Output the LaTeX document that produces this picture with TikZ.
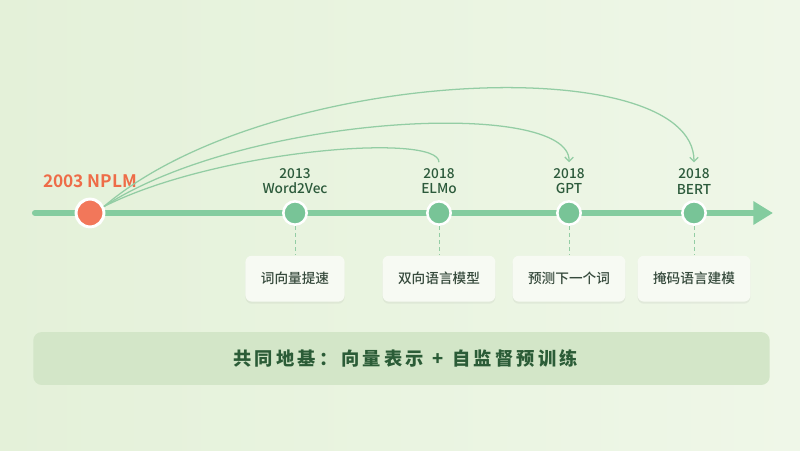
\documentclass[tikz,border=0pt]{standalone}
\usepackage{fontspec}
\usetikzlibrary{positioning,arrows.meta,shadows}
\newfontfamily\cjk{Noto Sans CJK SC}
\newfontfamily\cjkmed{Noto Sans CJK SC}[UprightFont={* Medium},BoldFont={* Bold}]
\newfontfamily\cjkband{Noto Sans CJK SC}[LetterSpace=18]

\definecolor{bgl}{HTML}{E4F1D9}
\definecolor{bgr}{HTML}{EFF7E8}
\definecolor{lineg}{HTML}{84CC9F}
\definecolor{dotg}{HTML}{78C497}
\definecolor{nplmc}{HTML}{F2775A}
\definecolor{nplmt}{HTML}{EE6C48}
\definecolor{darkg}{HTML}{2C5A3B}
\definecolor{curveg}{HTML}{93CDA4}
\definecolor{boxt}{HTML}{364A3C}
\definecolor{boxf}{HTML}{F7FAF3}
\definecolor{bandc}{HTML}{D3E6C8}
\definecolor{bandt}{HTML}{2B5C37}

\begin{document}
\begin{tikzpicture}[x=0.025cm,y=-0.025cm,
    yeardot/.style={circle,fill=dotg,draw=white,line width=1.8pt,minimum size=16.6pt,inner sep=0pt,
      drop shadow={opacity=0.12,shadow xshift=0pt,shadow yshift=-1pt}},
    nplmdot/.style={yeardot,fill=nplmc,line width=2.1pt,minimum size=19.8pt},
    yearlab/.style={align=center,text=darkg,inner sep=1pt,font=\cjkmed\fontsize{9.7}{11.3}\selectfont},
    nplmlab/.style={text=nplmt,inner sep=1pt,font=\cjkmed\bfseries\fontsize{12.3}{14}\selectfont},
    ideabox/.style={rounded corners=4.5pt,fill=boxf,text=boxt,inner xsep=11pt,minimum height=32.6pt,
      font=\cjkmed\fontsize{9.7}{11}\selectfont,
      drop shadow={opacity=0.10,shadow xshift=0pt,shadow yshift=-1.5pt}},
    linkdash/.style={curveg,line width=0.6pt,dash pattern=on 3pt off 2pt},
    jump/.style={curveg,line width=0.9pt},
    band/.style={rounded corners=6pt,fill=bandc,text=bandt,minimum width=523.7pt,minimum height=37.6pt,
      font=\cjkband\bfseries\fontsize{13}{15}\selectfont}]
        % background
        \shade[left color=bgl,right color=bgr] (0,0) rectangle (800,450);
        \useasboundingbox (0,0) rectangle (800,450);

        % timeline
        \coordinate (tstart) at (35,213);
        \coordinate (tend) at (773,213);
        \draw[lineg,line width=4.3pt,line cap=round,-{Triangle[length=14pt,width=16pt]}] (tstart) -- (tend);

        % milestones
        \node[nplmdot] (nplm) at (90,213) {};
        \node[yeardot] (w2v) at (295,213) {};
        \node[yeardot] (elmo) at (439,213) {};
        \node[yeardot] (gpt) at (569,213) {};
        \node[yeardot] (bert) at (694,213) {};

        \node[nplmlab,above=5.5pt of nplm] (nplmlab) {2003 NPLM};
        \node[yearlab,above=3pt of w2v] (w2vlab) {2013\\Word2Vec};
        \node[yearlab,above=3pt of elmo] (elmolab) {2018\\ELMo};
        \node[yearlab,above=3pt of gpt] (gptlab) {2018\\GPT};
        \node[yearlab,above=3pt of bert] (bertlab) {2018\\BERT};

        % idea boxes
        \node[ideabox,below=21pt of w2v] (w2vbox) {词向量提速};
        \node[ideabox,below=21pt of elmo] (elmobox) {双向语言模型};
        \node[ideabox,below=21pt of gpt] (gptbox) {预测下一个词};
        \node[ideabox,below=21pt of bert] (bertbox) {掩码语言建模};
        \draw[linkdash] (w2v) -- (w2vbox);
        \draw[linkdash] (elmo) -- (elmobox);
        \draw[linkdash] (gpt) -- (gptbox);
        \draw[linkdash] (bert) -- (bertbox);

        % influence arcs
        \draw[jump,shorten >=3pt] (nplm.25) .. controls +(113,-57) and +(0,-34) .. (elmolab.north);
        \draw[jump,shorten >=3pt,-{Straight Barb[length=3pt,width=6pt]}] (nplm.25) .. controls +(143,-93) and +(1,-68) .. (gptlab.north);
        \draw[jump,shorten >=3pt,-{Straight Barb[length=3pt,width=6pt]}] (nplm.25) .. controls +(163,-140) and +(0,-118) .. (bertlab.north);

        % common ground
        \node[band] (base) at (401.5,358.5) {\hspace*{6pt}共同地基：向量表示\hspace{6pt}+\hspace{6pt}自监督预训练};
    \end{tikzpicture}
\end{document}
